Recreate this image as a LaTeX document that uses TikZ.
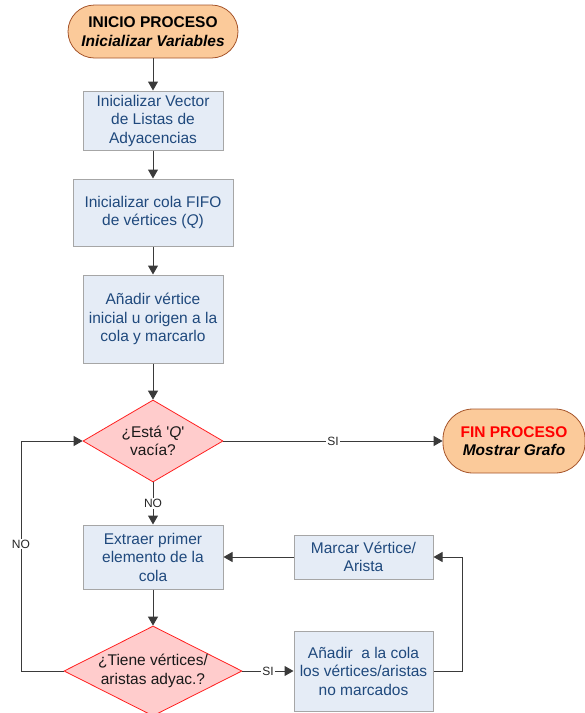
\documentclass[tikz,border=0pt]{standalone}
\usepackage{fontspec}
\setmainfont{Liberation Sans}[Ligatures=TeXOff]
\usetikzlibrary{arrows.meta,shapes.geometric}
\definecolor{boxfill}{HTML}{E5ECF6}
\definecolor{boxline}{HTML}{A6A6A6}
\definecolor{boxtext}{HTML}{1F497D}
\definecolor{termfill}{HTML}{FBCA9A}
\definecolor{termline}{HTML}{A5542A}
\definecolor{decfill}{HTML}{FFCCCC}
\definecolor{decline}{HTML}{FF2020}
\definecolor{wire}{HTML}{3A3A3A}
\definecolor{endred}{HTML}{FF0000}
\tikzset{
  bodyfont/.style={font=\fontsize{15.5}{18.5}\selectfont},
  stepbox/.style={draw=boxline, line width=1pt, fill=boxfill, text=boxtext,
    align=center, inner sep=0pt, bodyfont},
  terminal/.style={draw=termline, line width=0.8pt, fill=termfill, align=center,
    inner sep=0pt, bodyfont},
  decision/.style={diamond, draw=decline, line width=0.8pt, fill=decfill, inner sep=0pt},
  dectext/.style={align=center, text=black!90, bodyfont, inner sep=0pt},
  wirelabel/.style={fill=white, inner sep=1pt, text=black!85,
    font=\fontsize{12}{14}\selectfont},
  flow/.style={draw=wire, line width=1pt, -{Triangle[length=9pt,width=10pt]}},
}
\begin{document}
\begin{tikzpicture}[x=1pt,y=-1pt]
\useasboundingbox (0,0) rectangle (585,713);

% terminals
\node[terminal, minimum width=170pt, minimum height=53pt, rounded corners=26.5pt]
  (start) at (153,31.5) {\textbf{INICIO PROCESO}\\\textbf{\textit{Inicializar Variables}}};
\node[terminal, minimum width=142pt, minimum height=64pt, rounded corners=30pt]
  (fin) at (514,441) {\textcolor{endred}{\textbf{FIN PROCESO}}\\\textbf{\textit{Mostrar Grafo}}};

% process steps
\node[stepbox, minimum width=140pt, minimum height=59pt] (vec) at (153,120.5)
  {Inicializar Vector\\de Listas de\\Adyacencias};
\node[stepbox, minimum width=160pt, minimum height=67pt] (fifo) at (153,212.5)
  {Inicializar cola FIFO\\de vértices (\textit{Q})};
\node[stepbox, minimum width=140pt, minimum height=88pt] (orig) at (153,319)
  {Añadir vértice\\inicial u origen a la\\cola y marcarlo};
\node[stepbox, minimum width=140pt, minimum height=64pt] (extr) at (153,557)
  {Extraer primer\\elemento de la\\cola};
\node[stepbox, minimum width=139pt, minimum height=44pt] (mark) at (363.5,557)
  {Marcar Vértice/\\Arista};
\node[stepbox, minimum width=139pt, minimum height=80pt] (add) at (363.5,671)
  {Añadir~ a la cola\\los vértices/aristas\\no marcados};

% decisions
\node[decision, minimum width=140pt, minimum height=82pt] (empty) at (153,441) {};
\node[dectext] (emptyt) at (empty) {¿Está '\textit{Q}'\\vacía?};
\node[decision, minimum width=178pt, minimum height=90pt] (adj) at (153,671) {};
\node[dectext] (adjt) at (adj) {¿Tiene vértices/\\aristas adyac.?};

% loop columns
\coordinate (lx) at (21,0);
\coordinate (rx) at (462,0);

% connectors
\draw[flow] (start) -- (vec);
\draw[flow] (vec) -- (fifo);
\draw[flow] (fifo) -- (orig);
\draw[flow] (orig) -- (empty.north);
\draw[flow] (empty.south) -- node[wirelabel] {NO} (extr.north);
\draw[flow] (empty.east) -- node[wirelabel] {SI} (fin.west);
\draw[flow] (extr) -- (adj.north);
\draw[flow] (adj.east) -- node[wirelabel] {SI} (add.west);
\draw[flow] (add.east) -- (add.east -| rx) |- (mark.east);
\draw[flow] (mark.west) -- (extr.east);
\draw[flow] (adj.west) -- (adj.west -| lx) |- node[wirelabel, pos=0.276] {NO} (empty.west);
\end{tikzpicture}
\end{document}
